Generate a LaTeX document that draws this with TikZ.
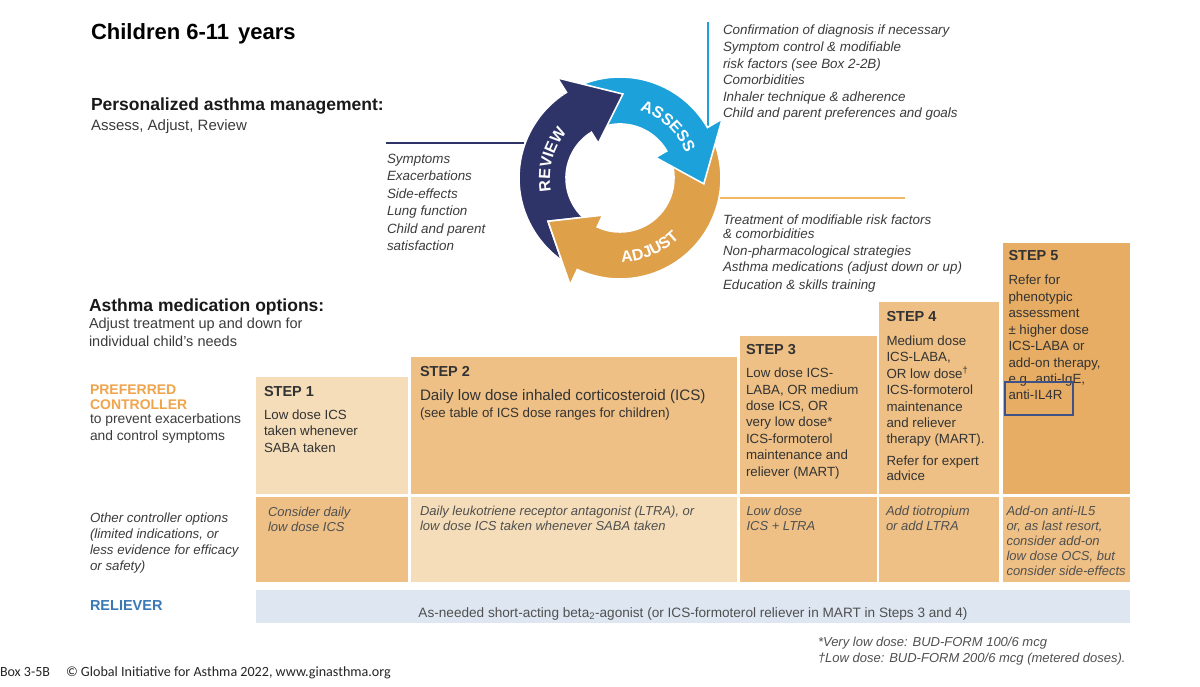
\documentclass[tikz,border=0pt]{standalone}
\usepackage{fontspec}
\setmainfont{Liberation Sans}
\newfontfamily\calib{Carlito}
\usetikzlibrary{calc,decorations.text}
\definecolor{navyc}{HTML}{2E3468}
\definecolor{bluec}{HTML}{1DA1DB}
\definecolor{orangec}{HTML}{DFA04A}
\definecolor{lightc}{HTML}{F4DDB8}
\definecolor{midc}{HTML}{EEC085}
\definecolor{darkc}{HTML}{E7AD64}
\definecolor{relc}{HTML}{DDE6F1}
\definecolor{bodyc}{HTML}{3C3C3C}
\definecolor{headc}{HTML}{333333}
\definecolor{greyc}{HTML}{505050}
\definecolor{prefc}{HTML}{F0A44C}
\definecolor{relbluec}{HTML}{3A7AB4}
\definecolor{boxc}{HTML}{3E5288}
\definecolor{olinec}{HTML}{F3B866}
\newcommand{\txl}[1]{\begin{tabular}[t]{@{}l@{}}#1\end{tabular}}
\newcommand{\fs}[2]{\fontsize{#1}{#2}\selectfont}
\begin{document}
\begin{tikzpicture}[x=1pt,y=-1pt,
  txt/.style={anchor=base west, inner sep=0pt, outer sep=0pt, text=bodyc},
  ital/.style={txt, font=\fs{13.4}{16.6}\itshape},
  stephead/.style={txt, font=\fs{14.5}{17}\bfseries, text=headc},
  stepbody/.style={txt, font=\fs{13.3}{16.4}, text=headc},
  othertxt/.style={txt, font=\fs{13}{15}\itshape, text=greyc},
  arrowpath/.style n args={2}{insert path={
    ($(C)+(#1:54)$) arc[start angle=#1, end angle=#2, radius=54]
    -- ($(C)+(#2:41)$) -- ($(C)+(#2+34:84)$) -- ($(C)+(#2:118)$)
    -- ($(C)+(#2:101)$) arc[start angle=#2, end angle=#1, radius=101] -- cycle}},
  arrowfill/.style={draw=white, line width=1.6pt, line join=miter},
  wedge/.style n args={2}{insert path={(C) -- ($(C)+(#1:200)$) arc[start angle=#1, end angle=#2, radius=200] -- cycle}},
  ringlabel/.style={decorate, decoration={text along path, text={|\fs{16}{16}\bfseries|#1}, text align=center, text color=white}}
]
\useasboundingbox (0,0) rectangle (1200,687);
\fill[white] (0,0) rectangle (1200,687);

% ---------- left headings ----------
\node[txt, font=\fs{22}{26}\bfseries, text=black] (title) at (91,40) {Children 6-11\hspace{9pt}years};
\node[txt, font=\fs{17.5}{20}\bfseries, text=black!90] (pam) at (91,110.7) {Personalized asthma management:};
\node[txt, font=\fs{15}{18}] (aar) at (91,130.7) {Assess, Adjust, Review};
\node[txt, font=\fs{17.5}{20}\bfseries, text=black!90] (amo) at (89,311.7) {Asthma medication options:};
\node[txt, font=\fs{14.5}{17.7}] (adj) at (89,328.3) {\txl{Adjust treatment up and down for\\individual child's needs}};
\node[txt, font=\fs{14}{15.7}\bfseries, text=prefc] (pref) at (90,394) {\txl{PREFERRED\\CONTROLLER}};
\node[txt, font=\fs{13.8}{16.7}] (prev) at (90,423.3) {\txl{to prevent exacerbations\\and control symptoms}};
\node[txt, font=\fs{13.3}{16}\itshape] (oth) at (90,522.3) {\txl{Other controller options\\(limited indications, or\\less evidence for efficacy\\or safety)}};
\node[txt, font=\fs{14.5}{17}\bfseries, text=relbluec] (rel) at (90,610) {RELIEVER};

% ---------- cycle ----------
\coordinate (C) at (620,178);
\draw[navyc, line width=1.3pt] (386,143) -- (524,143);
\draw[bluec, line width=1.5pt] (708,22) -- (708,138);
\draw[olinec, line width=1.3pt] (700,198) -- (905,198);

\path[arrowfill, fill=navyc, arrowpath={-240}{-122}];
\path[arrowfill, fill=bluec, arrowpath={-114}{-30}];
\path[arrowfill, fill=orangec, arrowpath={-24}{115}];
\begin{scope}
  \clip[wedge={-124}{-60}];
  \path[arrowfill, fill=navyc, arrowpath={-240}{-122}];
\end{scope}
\begin{scope}
  \clip[wedge={-32}{30}];
  \path[arrowfill, fill=bluec, arrowpath={-114}{-30}];
\end{scope}
\begin{scope}
  \clip[wedge={113}{175}];
  \path[arrowfill, fill=orangec, arrowpath={-24}{115}];
\end{scope}

\path[ringlabel=REVIEW] ($(C)+(-210:70)$) arc[start angle=-210, end angle=-120, radius=70];
\path[ringlabel=ASSESS] ($(C)+(-92:70)$) arc[start angle=-92, end angle=-2, radius=70];
\path[ringlabel=ADJUST] ($(C)+(112:84)$) arc[start angle=112, end angle=22, radius=84];

\node[ital] (revlist) at (387,163.3) {\fs{13.4}{17.5}\txl{Symptoms\\Exacerbations\\Side-effects\\Lung function\\Child and parent\\satisfaction}};
\node[ital] (asslist) at (723,35) {\txl{Confirmation of diagnosis if necessary\\Symptom control \& modifiable\\risk factors (see Box 2-2B)\\Comorbidities\\Inhaler technique \& adherence\\Child and parent preferences and goals}};
\node[ital] (adjlist) at (723,224.3) {\fs{13.4}{14}\txl{Treatment of modifiable risk factors\\\& comorbidities\\[3.7pt]Non-pharmacological strategies\\[1.7pt]Asthma medications (adjust down or up)\\[4.3pt]Education \& skills training}};

% ---------- step boxes ----------
\fill[lightc] (256,377) rectangle (408,494);
\fill[midc] (411,357) rectangle (737,494);
\fill[midc] (740,336) rectangle (877,494);
\fill[midc] (879,302) rectangle (999,494);
\fill[darkc] (1003,243) rectangle (1130,494);
\fill[midc] (256,497) rectangle (408,582);
\fill[lightc] (411,497) rectangle (737,582);
\fill[midc] (740,497) rectangle (877,582);
\fill[midc] (879,497) rectangle (999,582);
\fill[midc] (1003,497) rectangle (1130,582);
\fill[relc] (256,590) rectangle (1130,623);

\node[stephead] (s1h) at (264,396) {STEP 1};
\node[stepbody, font=\fs{13.3}{16.8}] (s1b) at (264,419) {\txl{Low dose ICS\\taken whenever\\SABA taken}};
\node[stephead] (s2h) at (420,376) {STEP 2};
\node[stepbody, font=\fs{15.2}{18}] (s2b) at (420,400) {Daily low dose inhaled corticosteroid (ICS)};
\node[stepbody] (s2c) at (420,417.3) {(see table of ICS dose ranges for children)};
\node[stephead] (s3h) at (746,354) {STEP 3};
\node[stepbody] (s3b) at (746,377.7) {\txl{Low dose ICS-\\LABA, OR medium\\dose ICS, OR\\very low dose*\\ICS-formoterol\\maintenance and\\reliever (MART)}};
\node[stephead] (s4h) at (886.5,321.7) {STEP 4};
\node[stepbody] (s4b) at (886.5,345) {\txl{Medium dose\\ICS-LABA,\\OR low dose\textsuperscript{\dag}\\ICS-formoterol\\maintenance\\and reliever\\therapy (MART).}};
\node[stepbody, font=\fs{13.3}{15.7}] (s4c) at (886.5,465) {\txl{Refer for expert\\advice}};
\node[stephead] (s5h) at (1008.5,260.7) {STEP 5};
\node[stepbody] (s5b) at (1008.5,285) {\txl{Refer for\\phenotypic\\assessment\\± higher dose\\ICS-LABA or\\add-on therapy,\\e.g. anti-IgE,\\anti-IL4R}};
\draw[boxc, line width=1.5pt] (1005,382) rectangle (1073,415);

\node[othertxt, font=\fs{13}{14.5}\itshape] (o1) at (268,516.5) {\txl{Consider daily\\low dose ICS}};
\node[othertxt, font=\fs{13}{14.5}\itshape] (o2) at (420,515.7) {\txl{Daily leukotriene receptor antagonist (LTRA), or\\low dose ICS taken whenever SABA taken}};
\node[othertxt] (o3) at (746.5,515) {\txl{Low dose\\ICS + LTRA}};
\node[othertxt] (o4) at (886,515) {\txl{Add tiotropium\\or add LTRA}};
\node[othertxt] (o5) at (1006.5,515) {\txl{Add-on anti-IL5\\or, as last resort,\\consider add-on\\low dose OCS, but\\consider side-effects}};

\node[txt, anchor=base, font=\fs{13.6}{15}, text=greyc] (reltxt) at (693,617.7) {As-needed short-acting beta\textsubscript{2}-agonist (or ICS-formoterol reliever in MART in Steps 3 and 4)};

% ---------- footnotes ----------
\node[othertxt, font=\fs{13}{16}\itshape] (fn) at (818,646.7) {\txl{*Very low dose: BUD-FORM 100/6 mcg\\\dag Low dose: BUD-FORM 200/6 mcg (metered doses).}};
\node[txt, font=\calib\fs{14}{16}, text=black!85] (box) at (0,676) {Box 3-5B};
\node[txt, font=\calib\fs{14.1}{16}, text=black!85] (copy) at (66,676) {© Global Initiative for Asthma 2022, www.ginasthma.org};
\end{tikzpicture}
\end{document}
